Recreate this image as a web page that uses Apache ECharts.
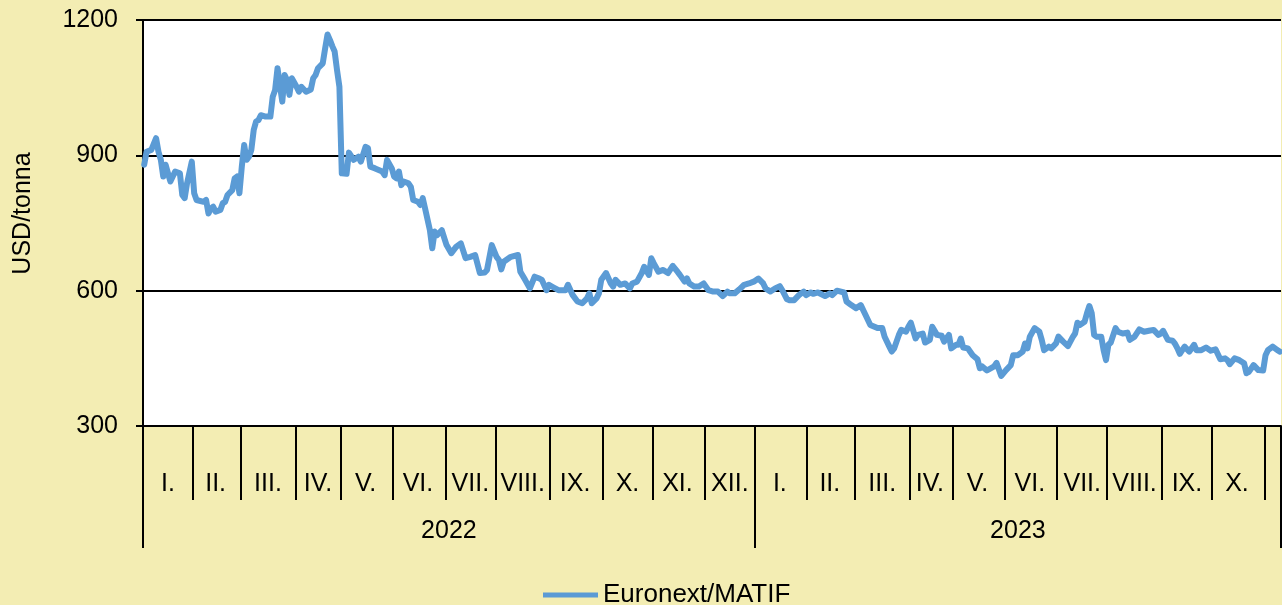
<!DOCTYPE html>
<html><head><meta charset="utf-8">
<script src="https://cdn.jsdelivr.net/npm/echarts@6/dist/echarts.min.js"></script>
<style>html,body{margin:0;padding:0;background:#F3EDB3}#c{width:1282px;height:605px}</style>
</head><body><div id="c"></div>
<script>
// ---- data ----
const monthLabels = ['I.','II.','III.','IV.','V.','VI.','VII.','VIII.','IX.','X.','XI.','XII.',
                     'I.','II.','III.','IV.','V.','VI.','VII.','VIII.','IX.','X.',''];
const monthYears  = [2022,2022,2022,2022,2022,2022,2022,2022,2022,2022,2022,2022,
                     2023,2023,2023,2023,2023,2023,2023,2023,2023,2023,2023];
// trading days per month (last month partial)
const monthDays   = [21,20,23,19,22,22,21,23,22,21,22,21,
                     22,20,23,18,22,22,21,23,21,22,7];
const yearLabels  = ['2022','2023'];
const yTicks      = [300,600,900,1200];
const seriesName  = 'Euronext/MATIF';
const axisTitle   = 'USD/tonna';

// trading-day index of each reading and the price read at it (USD/tonna)
const readDay = [0,1,3,5,6,7,8,9,10,11,13,15,16,17,18,20,21,22,25,26,27,28,29,30,32,33,34,35,37,38,39,40,41,42,43,44,45,46,47,48,49,51,53,54,55,56,57,58,59,60,61,62,64,65,66,68,70,71,72,73,75,76,77,78,79,80,81,82,83,85,86,88,90,91,93,94,95,97,100,101,102,104,105,106,107,108,109,111,112,113,115,116,117,118,120,121,122,123,125,127,129,131,133,135,137,139,141,143,144,146,148,149,150,151,154,157,158,160,162,164,166,167,169,170,172,174,177,178,180,182,184,186,187,188,190,191,192,194,196,197,198,200,202,204,205,207,209,210,212,213,214,216,218,220,222,224,225,227,228,229,231,233,235,237,239,241,243,245,246,248,250,252,254,256,258,260,261,263,265,267,268,270,271,273,275,277,278,280,281,283,286,288,289,291,294,295,297,299,301,303,305,308,310,311,313,314,315,317,318,320,321,322,324,325,327,328,330,331,333,335,336,338,339,341,342,343,344,346,348,350,351,352,354,357,358,360,362,364,365,367,369,370,371,372,374,376,377,378,380,381,383,384,386,388,390,391,392,393,395,396,397,398,399,400,402,403,404,405,406,408,409,411,413,414,416,418,420,422,424,426,427,428,430,432,433,434,435,437,439,441,442,444,446,448,450,452,454,455,456,458,460,462,463,464,466,468,470,471,472,474,476,477];
const readPrice = [879,908,912,938,908,890,853,879,860,842,864,860,812,805,838,886,816,801,797,801,771,782,786,775,779,794,797,812,823,849,853,816,875,923,890,897,912,956,975,978,989,986,986,1030,1045,1093,1056,1019,1078,1067,1034,1071,1052,1041,1052,1041,1046,1071,1078,1093,1104,1137,1168,1156,1142,1130,1089,1052,860,859,906,890,897,886,919,916,875,871,864,856,890,871,853,849,864,834,842,838,830,801,797,790,805,782,734,694,731,723,734,701,683,697,705,672,675,679,639,640,646,701,675,668,647,664,675,679,642,624,605,631,627,624,601,613,607,601,601,613,590,576,572,583,594,572,583,594,624,639,616,609,624,613,616,605,616,620,639,653,635,672,661,642,646,639,655,642,635,620,627,616,609,609,616,601,598,598,588,598,594,594,603,613,616,620,627,616,605,598,605,610,601,581,579,579,590,598,590,596,593,596,588,594,590,600,596,576,568,561,568,546,524,517,517,498,476,465,472,502,513,509,520,529,494,502,505,485,491,520,502,500,487,502,472,480,480,494,474,472,457,448,428,432,423,432,440,411,424,435,457,457,465,483,472,498,517,509,491,468,476,472,483,498,487,477,497,505,529,524,531,550,566,550,502,498,498,468,446,480,485,517,509,505,507,491,498,514,509,511,513,502,505,511,491,489,482,472,460,476,465,480,468,468,474,467,470,448,450,446,437,450,446,439,417,420,435,424,423,457,468,476,468,465];

// ---- derived structures ----
const categories = [];
const monthStartIdx = new Set();
const monthMidLabel = {};
const yearStartIdx = new Set();
const yearMidLabel = {};
let pos = 0;
const yearSpan = {};
monthDays.forEach((n, m) => {
  monthStartIdx.add(pos);
  const y = monthYears[m];
  if (!(y in yearSpan)) { yearSpan[y] = [pos, 0]; yearStartIdx.add(pos); }
  yearSpan[y][1] += n;
  if (monthLabels[m]) monthMidLabel[pos + Math.floor((n - 1) / 2)] = monthLabels[m];
  for (let k = 0; k < n; k++) categories.push(y + '-' + ((m % 12) + 1) + '-' + (k + 1));
  pos += n;
});
yearLabels.forEach(y => {
  const s = yearSpan[+y];
  yearMidLabel[s[0] + Math.floor((s[1] - 1) / 2)] = y;
});
const seriesData = readDay.map((d, i) => [d, readPrice[i]]);

const FONT = '"Liberation Sans", Arial, sans-serif';
const LINE = '#5B9BD5';
const chart = echarts.init(document.getElementById('c'), null, {renderer: 'canvas'});
chart.setOption({
  backgroundColor: '#F3EDB3',
  animation: false,
  grid: {left: 143, right: 1, top: 20, bottom: 179, show: true, backgroundColor: '#ffffff', borderWidth: 0},
  legend: {
    data: [{name: seriesName, icon: 'rect', itemStyle: {color: LINE}}],
    left: 543, top: 582, padding: 0, itemWidth: 55, itemHeight: 5, itemGap: 0,
    textStyle: {fontSize: 26, color: '#000', fontFamily: FONT, lineHeight: 26}
  },
  xAxis: [{
    type: 'category', data: categories, boundaryGap: true,
    axisLine: {show: true, lineStyle: {color: '#000', width: 2}},
    axisTick: {show: true, length: 74, interval: (i) => monthStartIdx.has(i), lineStyle: {color: '#000', width: 2}},
    axisLabel: {show: true, interval: (i) => (i in monthMidLabel), formatter: (v, i) => monthMidLabel[i] || '',
      color: '#000', fontSize: 25, fontFamily: FONT, lineHeight: 25, margin: 46},
    splitLine: {show: false}
  }, {
    type: 'category', data: categories, boundaryGap: true, position: 'bottom',
    axisLine: {show: false},
    axisTick: {show: true, length: 122, interval: (i) => yearStartIdx.has(i), lineStyle: {color: '#000', width: 2}},
    axisLabel: {show: true, interval: (i) => (i in yearMidLabel), formatter: (v, i) => yearMidLabel[i] || '',
      color: '#000', fontSize: 25, fontFamily: FONT, lineHeight: 25, margin: 93},
    splitLine: {show: false}
  }],
  yAxis: {
    type: 'value', min: yTicks[0], max: yTicks[yTicks.length - 1], interval: yTicks[1] - yTicks[0],
    axisLine: {show: true, lineStyle: {color: '#000', width: 2}},
    axisTick: {show: true, length: 7, lineStyle: {color: '#000', width: 2}},
    axisLabel: {color: '#000', fontSize: 25, fontFamily: FONT, margin: 25, formatter: (v) => String(v)},
    splitLine: {show: true, lineStyle: {color: '#000', width: 2}},
    name: axisTitle, nameLocation: 'middle', nameGap: 107,
    nameTextStyle: {color: '#000', fontSize: 25, fontFamily: FONT, padding: [0, 0, 0, 19]}
  },
  series: [{
    name: seriesName, type: 'line', xAxisIndex: 0, data: seriesData,
    showSymbol: false, symbol: 'none', smooth: false,
    lineStyle: {color: LINE, width: 6, join: 'round', cap: 'round'},
    itemStyle: {color: LINE}
  }]
});
</script></body></html>
